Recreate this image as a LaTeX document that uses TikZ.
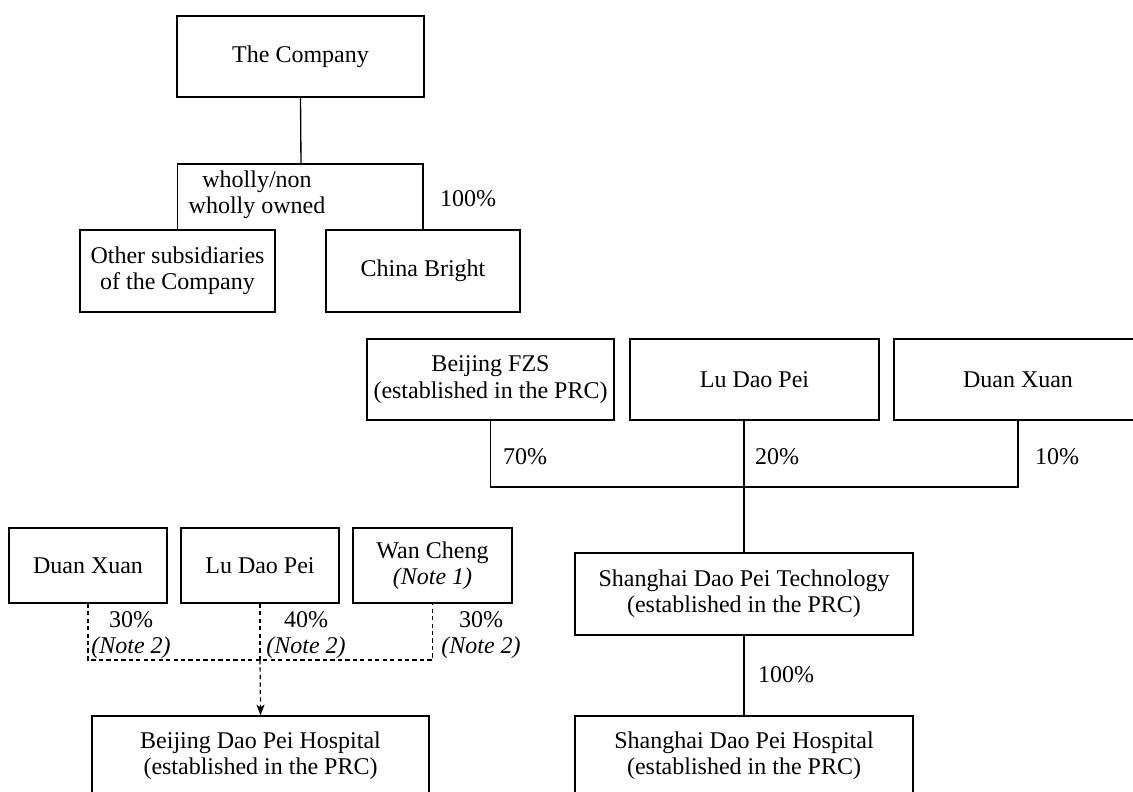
\documentclass[tikz,border=0pt]{standalone}
\usepackage{fontspec}
\setmainfont{Liberation Serif}
\usetikzlibrary{fit,arrows.meta}
\begin{document}
\begin{tikzpicture}[x=0.75pt,y=-0.75pt,
  every node/.style={font=\fontsize{18}{19.8}\selectfont},
  box/.style={draw, line width=1pt, inner sep=0pt},
  lbl/.style={inner sep=0pt, align=center},
  conn/.style={line width=1pt},
  dconn/.style={line width=0.9pt, dash pattern=on 3.2pt off 2.4pt},
  tip/.style={-{Stealth[length=8pt,width=6pt,inset=2pt]}},
]
\useasboundingbox (0,0) rectangle (1133,792);
\clip (0,0) rectangle (1133,792);

% top group
\node[box, fit={(177,16) (424,97)}, label={[lbl]center:The Company}] (co) {};
\node[box, fit={(80,230) (275,312)}, label={[lbl]center:Other subsidiaries\\of the Company}] (os) {};
\node[box, fit={(326,230) (520,312)}, label={[lbl]center:China Bright}] (cb) {};
\coordinate (j1) at (301,164);
\draw[conn] (co.south) -- (j1);
\draw[conn] (os.north) -- (os.north |- j1) -- (cb.north |- j1) -- (cb.north);
\node[lbl] (l1) at (257,195) {wholly/non\\wholly owned};
\node[lbl] (l2) at (468,199) {100\%};

% right group
\node[box, fit={(367,339) (614,420)}, label={[lbl]center:Beijing FZS\\(established in the PRC)}] (fzs) {};
\node[box, fit={(630,339) (879,420)}, label={[lbl]center:Lu Dao Pei}] (ldp) {};
\node[box, fit={(894,339) (1142,420)}, label={[lbl]center:Duan Xuan}] (dx) {};
\node[box, fit={(575,553) (913,635)}, label={[lbl]center:Shanghai Dao Pei Technology\\(established in the PRC)}] (st) {};
\node[box, fit={(575,716) (913,796)}, label={[lbl]center:Shanghai Dao Pei Hospital\\(established in the PRC)}] (sh) {};
\coordinate (j2) at (744,487);
\draw[conn] (fzs.south) -- (fzs.south |- j2) -- (dx.south |- j2) -- (dx.south);
\draw[conn] (ldp.south -| st.north) -- (st.north);
\draw[conn] (st.south) -- (sh.north);
\node[lbl] (p70) at (525,457) {70\%};
\node[lbl] (p20) at (777,457) {20\%};
\node[lbl] (p10) at (1057,457) {10\%};
\node[lbl] (p100) at (786,675) {100\%};

% left group
\node[box, fit={(9,528) (167,603)}, label={[lbl]center:Duan Xuan}] (dx2) {};
\node[box, fit={(181,528) (339,603)}, label={[lbl]center:Lu Dao Pei}] (ldp2) {};
\node[box, fit={(353,528) (512,603)}, label={[lbl]center:Wan Cheng\\\textit{(Note 1)}}] (wc) {};
\node[box, fit={(92,716) (429,796)}, label={[lbl]center:Beijing Dao Pei Hospital\\(established in the PRC)}] (bh) {};
\coordinate (j3) at (260,660);
\draw[dconn] (dx2.south) -- (dx2.south |- j3) -- (wc.south |- j3) -- (wc.south);
\draw[dconn] (ldp2.south) -- (j3);
\draw[dconn] (j3) -- ([yshift=6pt]bh.north);
\draw[line width=0.9pt, tip] ([yshift=8pt]bh.north) -- (bh.north);
\node[lbl] (q1) at (131,635) {30\%\\\textit{(Note 2)}};
\node[lbl] (q2) at (306,635) {40\%\\\textit{(Note 2)}};
\node[lbl] (q3) at (481,635) {30\%\\\textit{(Note 2)}};
\end{tikzpicture}
\end{document}
